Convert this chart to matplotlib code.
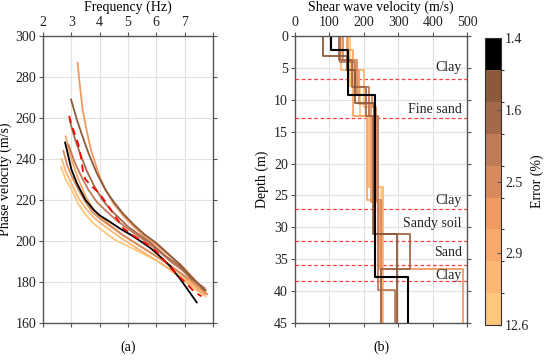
import numpy as np
import matplotlib
matplotlib.use("Agg")
import matplotlib.pyplot as plt
from matplotlib.colors import ListedColormap, BoundaryNorm
from matplotlib.cm import ScalarMappable

plt.rcParams['font.family'] = ['Liberation Serif', 'DejaVu Serif']
plt.rcParams['font.size'] = 10

# colours from best fit (black) to worst fit (light orange)
colors = ['#000000', '#8b5a3b', '#a4694a', '#c07a55', '#d98a5c',
          '#f09a62', '#f8a868', '#fcb772', '#fec87c']
error_labels = ['1.4', '1.6', '2.5', '2.9', '12.6']

# (a) dispersion curves: frequency (Hz) / phase velocity (m/s)
f_obs = [2.92, 3.0, 3.1, 3.25, 3.35, 3.42, 3.5, 3.7, 4.0, 4.26, 4.5, 4.85,
         5.2, 5.55, 6.0, 6.37, 6.7, 7.08, 7.35, 7.6]
v_obs = [261, 257, 253, 247, 240, 233, 230, 227, 223, 218, 213, 206,
         202.5, 199.5, 195, 189, 184, 179, 175, 173]

f_1 = [2.78, 2.9, 3.0, 3.2, 3.5, 3.8, 4.0, 4.4, 4.72, 5.1, 5.43, 5.8,
       6.13, 6.5, 6.84, 7.1, 7.43]
v_1 = [248, 241, 235, 228, 220, 215, 212.5, 209, 206, 203, 200, 196.5,
       192.5, 187.5, 181.5, 176.5, 170]
f_2 = [2.99, 3.2, 3.37, 3.6, 3.9, 4.2, 4.5, 4.85, 5.2, 5.6, 6.0, 6.4, 6.8, 7.2, 7.7]
v_2 = [269, 259, 252, 243, 233, 225, 219, 213, 208, 203, 199, 194, 189, 183, 176]
f_3 = [2.94, 3.1, 3.3, 3.55, 3.8, 4.1, 4.4, 4.7, 5.0, 5.4, 5.8, 6.3, 6.8, 7.2, 7.7]
v_3 = [259, 251, 243, 234, 227, 220, 215, 211, 207, 203, 199, 193, 188, 182, 177]
f_4 = [2.9, 3.1, 3.3, 3.6, 3.9, 4.2, 4.6, 5.0, 5.3, 5.7, 6.1, 6.5, 6.9, 7.3, 7.75]
v_4 = [247, 239, 233, 225, 219, 215, 210, 206, 203, 199, 195, 190, 186, 181, 176]
f_5 = [2.72, 2.85, 3.0, 3.25, 3.5, 3.75, 4.0, 4.4, 4.8, 5.2, 5.6, 6.0, 6.4, 6.8, 7.2, 7.8]
v_5 = [244, 237, 232, 225, 219, 214, 211, 207, 203, 199.5, 196, 192.5, 189, 185, 181, 174]
f_6 = [3.22, 3.3, 3.4, 3.54, 3.7, 4.01, 4.25, 4.5, 4.85, 5.2, 5.6, 6.0, 6.45, 6.9, 7.3, 7.75]
v_6 = [287, 276, 264, 254, 244, 231, 224, 218, 212, 207, 202, 198, 193, 188, 182, 175]
f_7 = [2.8, 2.9, 3.0, 3.25, 3.5, 3.75, 4.0, 4.4, 4.8, 5.2, 5.6, 6.0, 6.4, 6.8, 7.2, 7.7]
v_7 = [251, 245, 240, 230, 222, 216, 212, 207.5, 203, 199.5, 196, 192.5, 189, 184.5, 180, 174]
f_8 = [2.66, 2.8, 3.0, 3.25, 3.5, 3.75, 4.0, 4.4, 4.8, 5.2, 5.6, 6.0, 6.4, 6.8, 7.2, 7.7]
v_8 = [240, 234, 228, 221, 216, 212, 209, 205, 201, 197.5, 194, 190.5, 187, 183, 179, 174]
f_9 = [2.64, 2.8, 3.01, 3.25, 3.5, 3.75, 4.01, 4.3, 4.6, 5.0, 5.5, 6.0, 6.37, 6.8, 7.3, 7.75]
v_9 = [236, 230, 225, 218, 213, 209, 206, 203, 200, 197.5, 194, 190.5, 187, 182.5, 177, 173]

# (b) shear wave velocity profiles: Vs (m/s) per layer, layer boundaries (m)
vs_1 = [105, 155, 232, 328]
h_1 = [0, 2.2, 9.2, 37.8, 45]
vs_2 = [82, 150, 175, 230, 296]
h_2 = [0, 3.1, 5.4, 10.5, 31.1, 45]
vs_3 = [128, 165, 205, 228, 333, 250]
h_3 = [0, 3.8, 8.0, 12.5, 31.1, 36.6, 45]
vs_4 = [130, 175, 215, 242, 291]
h_4 = [0, 4.0, 8.0, 12.5, 39.8, 45]
vs_5 = [140, 180, 225, 235, 250]
h_5 = [0, 3.8, 9.2, 11.2, 25.7, 45]
vs_6 = [150, 185, 220, 245, 489]
h_6 = [0, 5.4, 10.6, 26.0, 36.6, 45]
vs_7 = [155, 170, 210, 252]
h_7 = [0, 2.2, 12.5, 25.7, 45]
vs_8 = [135, 200, 215, 255]
h_8 = [0, 5.4, 11.2, 23.7, 45]
vs_9 = [160, 190, 210, 250]
h_9 = [0, 7.8, 12.5, 23.7, 45]

layer_depths = [6.7, 12.9, 27.1, 32.1, 35.9, 38.5]
soil_names = ['Clay', 'Fine sand', 'Clay', 'Sandy soil', 'Sand', 'Clay']
soil_label_depths = [5.0, 11.6, 25.8, 29.4, 34.0, 37.6]

curves = [(f_1, v_1), (f_2, v_2), (f_3, v_3), (f_4, v_4), (f_5, v_5),
          (f_6, v_6), (f_7, v_7), (f_8, v_8), (f_9, v_9)]
profiles = [(vs_1, h_1), (vs_2, h_2), (vs_3, h_3), (vs_4, h_4), (vs_5, h_5),
            (vs_6, h_6), (vs_7, h_7), (vs_8, h_8), (vs_9, h_9)]

fig = plt.figure(figsize=(5.48, 3.6), dpi=100)
ax1 = fig.add_axes([0.0785, 0.103, 0.31, 0.797])
ax2 = fig.add_axes([0.5383, 0.103, 0.314, 0.797])
cax = fig.add_axes([0.885, 0.097, 0.029, 0.797])

spine_c = '#555555'
for ax in (ax1, ax2):
    ax.grid(True, color='#e2e2e2', lw=0.8)
    ax.set_axisbelow(True)
    for s in ax.spines.values():
        s.set_color(spine_c)
        s.set_linewidth(1.0)
    ax.tick_params(direction='out', length=3, color=spine_c, labelcolor='#222222',
                   top=True, bottom=True, left=True, right=True,
                   labeltop=True, labelbottom=False, pad=2)
    ax.xaxis.set_label_position('top')

# (a)
for i in range(len(curves) - 1, 0, -1):
    ax1.plot(curves[i][0], curves[i][1], color=colors[i], lw=1.3)
ax1.plot(f_1, v_1, color='black', lw=1.3)
ax1.plot(f_obs, v_obs, color='red', lw=1.3, ls=(0, (4, 3)))
ax1.set_xlim(2, 8)
ax1.set_ylim(160, 300)
ax1.set_xticks([2, 3, 4, 5, 6, 7, 8])
ax1.set_xticklabels(['2', '3', '4', '5', '6', '7', ''])
ax1.set_yticks(np.arange(160, 301, 20))
ax1.set_xlabel('Frequency (Hz)', labelpad=4)
ax1.set_ylabel('Phase velocity (m/s)', labelpad=2)
ax1.text(0.5, -0.085, '(a)', transform=ax1.transAxes, ha='center', va='center')

# (b)
for d in layer_depths:
    ax2.axhline(d, color='#ff4040', lw=0.9, ls=(0, (3, 2)))
for i in range(len(profiles) - 1, -1, -1):
    vs, h = profiles[i]
    x = np.repeat(vs, 2)
    y = np.repeat(h, 2)[1:-1]
    ax2.plot(x, y, color=colors[i], lw=1.3 if i else 1.5)
for name, d in zip(soil_names, soil_label_depths):
    ax2.text(485, d, name, ha='right', va='center', color='#222222')
ax2.set_xlim(0, 500)
ax2.set_ylim(45, 0)
ax2.set_xticks(np.arange(0, 501, 100))
ax2.set_yticks(np.arange(0, 46, 5))
ax2.set_xlabel('Shear wave velocity (m/s)', labelpad=4)
ax2.set_ylabel('Depth (m)', labelpad=4)
ax2.text(0.5, -0.085, '(b)', transform=ax2.transAxes, ha='center', va='center')

# colour bar
cmap = ListedColormap(colors[::-1])
norm = BoundaryNorm(np.arange(0, 10), cmap.N)
sm = ScalarMappable(norm=norm, cmap=cmap)
cb = fig.colorbar(sm, cax=cax, ticks=[0, 2.25, 4.5, 6.75, 9])
cb.ax.set_yticklabels(error_labels[::-1])
cb.ax.tick_params(direction='in', length=3, color=spine_c, labelcolor='#222222', pad=3)
cb.outline.set_edgecolor('#333333')
cb.outline.set_linewidth(0.8)
cb.set_label('Error (%)', labelpad=1)

fig.savefig('out.png', dpi=100)
